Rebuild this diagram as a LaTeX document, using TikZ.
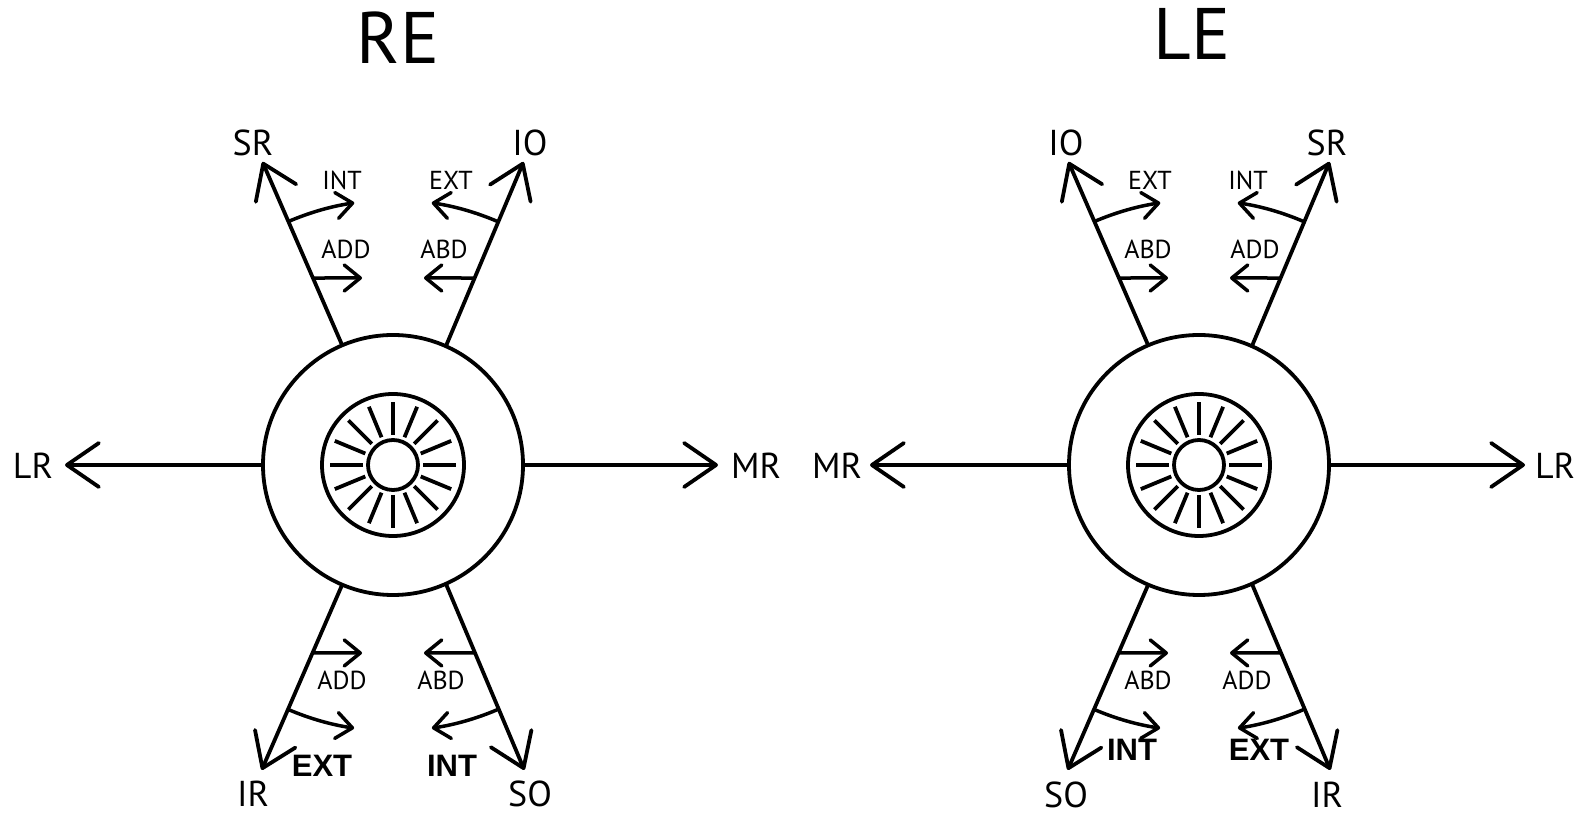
\documentclass[tikz,border=0pt]{standalone}
\usepackage{fontspec}
\setmainfont{PT Sans}
\newfontfamily\arialf{Liberation Sans}
\usetikzlibrary{arrows.meta}
\tikzset{
  eyeline/.style={line width=3.8pt},
  bigarrow/.style={line width=3.8pt, -{Straight Barb[length=32pt,width=44pt,round]}},
  smallarrow/.style={line width=3.5pt, -{Straight Barb[length=16pt,width=26pt,round]}},
  ring/.style={circle, draw, eyeline, inner sep=0pt, outer sep=0pt},
  titlelab/.style={font=\fontsize{73}{80}\selectfont, inner sep=0pt},
  musclelab/.style={font=\fontsize{36}{40}\selectfont, inner sep=0pt},
  smalllab/.style={font=\fontsize{26}{28}\selectfont, inner sep=0pt},
  boldlab/.style={font=\arialf\bfseries\fontsize{31}{34}\selectfont, inner sep=0pt},
}
\newcommand{\drawEyeball}[1]{%
  \node[ring, minimum size=260pt] (#1) at (0,0) {};
  \node[ring, minimum size=142pt] (#1iris) at (0,0) {};
  \node[ring, minimum size=50pt] (#1pupil) at (0,0) {};
  \foreach \a in {0,22.5,...,337.5} \draw[eyeline] (\a:30) -- (\a:63);
}
\begin{document}
\begin{tikzpicture}[x=1pt,y=1pt]
\useasboundingbox (0,0) rectangle (1593,816);
\fill[white] (0,0) rectangle (1593,816);

% ---------------- Right eye ----------------
\node[titlelab] (retitle) at (398,778) {RE};
\begin{scope}[shift={(393,351)}]
  \drawEyeball{re}
  \coordinate (reSRt) at (113.3:330);
  \coordinate (reIOt) at (66.7:330);
  \coordinate (reIRt) at (-113.3:332);
  \coordinate (reSOt) at (-66.7:332);
  \coordinate (reLRt) at (-328,0);
  \coordinate (reMRt) at (325,0);
  \draw[bigarrow] (re.113.3) -- (reSRt);
  \draw[bigarrow] (re.66.7) -- (reIOt);
  \draw[bigarrow] (re.-113.3) -- (reIRt);
  \draw[bigarrow] (re.-66.7) -- (reSOt);
  \draw[bigarrow] (re.180) -- (reLRt);
  \draw[bigarrow] (re.0) -- (reMRt);
  % small arrows top
  \coordinate (reA1s) at (113.3:203.6); \coordinate (reA1t) at (-31,187);
  \coordinate (reA2s) at (66.7:203.6);  \coordinate (reA2t) at (31,187);
  \draw[smallarrow] (reA1s) -- (reA1t);
  \draw[smallarrow] (reA2s) -- (reA2t);
  \draw[smallarrow] (113.3:265) arc[start angle=113.3, end angle=98.4, radius=265];
  \draw[smallarrow] (66.7:265) arc[start angle=66.7, end angle=81.6, radius=265];
  % small arrows bottom
  \coordinate (reA3s) at (-113.3:204.6); \coordinate (reA3t) at (-31,-188);
  \coordinate (reA4s) at (-66.7:204.6);  \coordinate (reA4t) at (31,-188);
  \draw[smallarrow] (reA3s) -- (reA3t);
  \draw[smallarrow] (reA4s) -- (reA4t);
  \draw[smallarrow] (-113.3:266) arc[start angle=-113.3, end angle=-98.4, radius=266];
  \draw[smallarrow] (-66.7:266) arc[start angle=-66.7, end angle=-81.6, radius=266];
  % labels
  \node[musclelab] (reSR) at (-140,322) {SR};
  \node[musclelab] (reIO) at (137,322) {IO};
  \node[musclelab] (reIR) at (-140,-329) {IR};
  \node[musclelab] (reSO) at (137,-329) {SO};
  \node[musclelab] (reLR) at (-360,-1) {LR};
  \node[musclelab] (reMR) at (363,-1) {MR};
  \node[smalllab] (reINT) at (-51,285) {INT};
  \node[smalllab] (reEXT) at (58,285) {EXT};
  \node[smalllab] (reADD) at (-47,216) {ADD};
  \node[smalllab] (reABD) at (51,216) {ABD};
  \node[smalllab] (reADDb) at (-51,-215) {ADD};
  \node[smalllab] (reABDb) at (48,-215) {ABD};
  \node[boldlab] (reEXTb) at (-71,-301) {EXT};
  \node[boldlab] (reINTb) at (59,-301) {INT};
\end{scope}

% ---------------- Left eye ----------------
\node[titlelab] (letitle) at (1192,782) {LE};
\begin{scope}[shift={(1199,351)}]
  \drawEyeball{le}
  \coordinate (leIOt) at (113.3:330);
  \coordinate (leSRt) at (66.7:330);
  \coordinate (leSOt) at (-113.3:332);
  \coordinate (leIRt) at (-66.7:332);
  \coordinate (leMRt) at (-329,0);
  \coordinate (leLRt) at (326,0);
  \draw[bigarrow] (le.113.3) -- (leIOt);
  \draw[bigarrow] (le.66.7) -- (leSRt);
  \draw[bigarrow] (le.-113.3) -- (leSOt);
  \draw[bigarrow] (le.-66.7) -- (leIRt);
  \draw[bigarrow] (le.180) -- (leMRt);
  \draw[bigarrow] (le.0) -- (leLRt);
  % small arrows top
  \coordinate (leA1s) at (113.3:203.6); \coordinate (leA1t) at (-31,187);
  \coordinate (leA2s) at (66.7:203.6);  \coordinate (leA2t) at (31,187);
  \draw[smallarrow] (leA1s) -- (leA1t);
  \draw[smallarrow] (leA2s) -- (leA2t);
  \draw[smallarrow] (113.3:265) arc[start angle=113.3, end angle=98.4, radius=265];
  \draw[smallarrow] (66.7:265) arc[start angle=66.7, end angle=81.6, radius=265];
  % small arrows bottom
  \coordinate (leA3s) at (-113.3:204.6); \coordinate (leA3t) at (-31,-188);
  \coordinate (leA4s) at (-66.7:204.6);  \coordinate (leA4t) at (31,-188);
  \draw[smallarrow] (leA3s) -- (leA3t);
  \draw[smallarrow] (leA4s) -- (leA4t);
  \draw[smallarrow] (-113.3:266) arc[start angle=-113.3, end angle=-98.4, radius=266];
  \draw[smallarrow] (-66.7:266) arc[start angle=-66.7, end angle=-81.6, radius=266];
  % labels
  \node[musclelab] (leIO) at (-133,322) {IO};
  \node[musclelab] (leSR) at (128,322) {SR};
  \node[musclelab] (leSO) at (-133,-330) {SO};
  \node[musclelab] (leIR) at (128,-330) {IR};
  \node[musclelab] (leMR) at (-362,-1) {MR};
  \node[musclelab] (leLR) at (356,-1) {LR};
  \node[smalllab] (leEXT) at (-49,285) {EXT};
  \node[smalllab] (leINT) at (49,285) {INT};
  \node[smalllab] (leABD) at (-51,216) {ABD};
  \node[smalllab] (leADD) at (56,216) {ADD};
  \node[smalllab] (leABDb) at (-51,-215) {ABD};
  \node[smalllab] (leADDb) at (48,-215) {ADD};
  \node[boldlab] (leINTb) at (-67,-285) {INT};
  \node[boldlab] (leEXTb) at (60,-285) {EXT};
\end{scope}
\end{tikzpicture}
\end{document}
